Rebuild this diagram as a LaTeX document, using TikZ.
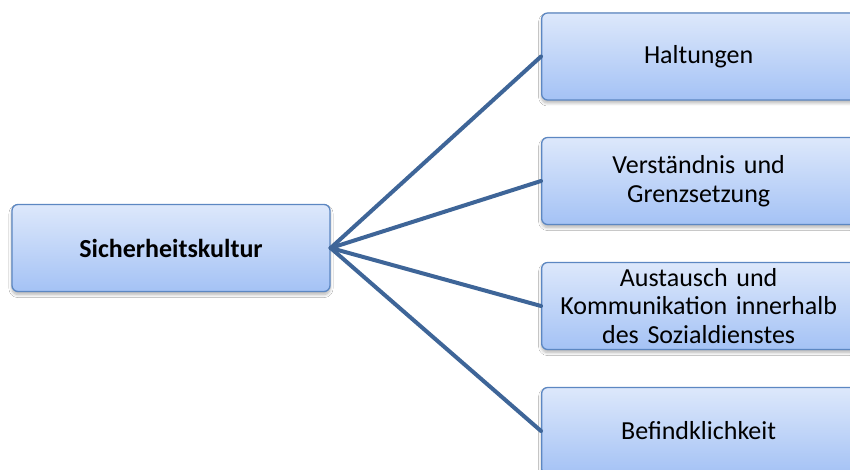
\documentclass[tikz,border=0pt]{standalone}
\usepackage{fontspec}
\setmainfont{Carlito}[WordSpace=0.85]
\usetikzlibrary{shadows.blur}

\definecolor{boxtop}{RGB}{221,232,251}
\definecolor{boxbottom}{RGB}{164,194,245}
\definecolor{boxborder}{RGB}{92,135,194}
\definecolor{linkcolor}{RGB}{62,101,152}

\tikzset{
  topicbox/.style={
    rectangle, rounded corners=6pt,
    draw=boxborder, line width=1.3pt,
    top color=boxtop, bottom color=boxbottom,
    blur shadow={shadow xshift=0pt, shadow yshift=-3pt,
                 shadow blur steps=8, shadow blur radius=3pt, shadow opacity=30},
    font=\fontsize{26}{28.5}\selectfont,
    align=center, inner xsep=7pt, inner ysep=0pt,
    minimum height=87pt
  },
  rootbox/.style={topicbox, text width=304pt, font=\fontsize{26}{28.5}\selectfont\bfseries},
  leafbox/.style={topicbox, text width=300pt, anchor=west},
  link/.style={draw=linkcolor, line width=4pt, line cap=round, line join=round}
}

\begin{document}
\begin{tikzpicture}[x=1pt,y=-1pt]
  \clip (0,0) rectangle (850,470);
  \fill[white] (0,0) rectangle (850,470);

  % central topic
  \node[rootbox] (root) at (171,248) {Sicherheitskultur};

  % sub-topics, partly running past the right and bottom edges
  \node[leafbox] (haltung) at (541,56.5) {Haltungen};
  \node[leafbox] (grenzen) at (541,181) {Verständnis und\\Grenzsetzung};
  \node[leafbox] (austausch) at (541,306) {Austausch und\\Kommunikation innerhalb\\des Sozialdienstes};
  \node[leafbox] (befinden) at (541,431) {Befindklichkeit};

  % connectors from the centre to each sub-topic
  \draw[link] (root.east) -- (haltung.west);
  \draw[link] (root.east) -- (grenzen.west);
  \draw[link] (root.east) -- (austausch.west);
  \draw[link] (root.east) -- (befinden.west);
\end{tikzpicture}
\end{document}
